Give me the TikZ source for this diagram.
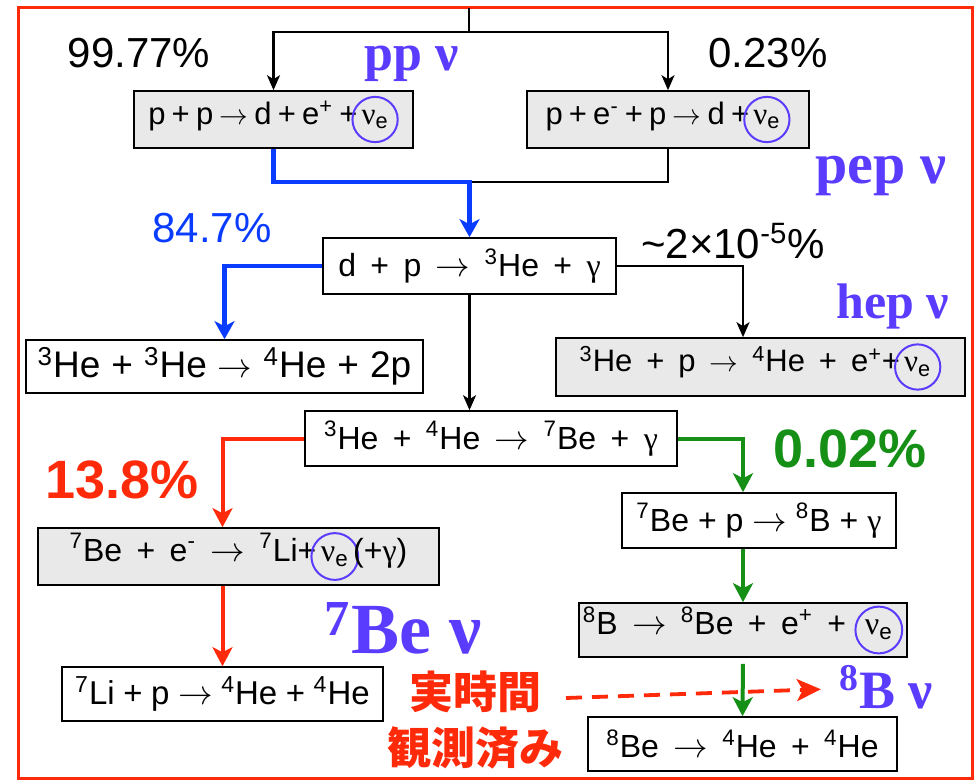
\documentclass[tikz,border=0pt]{standalone}
\usepackage{fontspec}
\setmainfont{Liberation Sans}
\newfontfamily\labfont{Liberation Serif}
\newfontfamily\cjk{Noto Sans CJK JP}
\usetikzlibrary{arrows.meta,calc,positioning}
\definecolor{frame}{HTML}{FF2A0A}
\definecolor{nu}{HTML}{5A3CFF}
\definecolor{ppb}{HTML}{0A3CFF}
\definecolor{bes}{HTML}{FF2A0A}
\definecolor{bos}{HTML}{168F16}
\definecolor{shade}{HTML}{E9E9E9}
\newcommand{\rfont}[2]{\fontsize{#1}{#1}\selectfont\spaceskip=#2em\relax}
\newcommand{\gam}{{\labfont γ}}
\newcommand{\nue}{\hspace{-3pt}\tikz[baseline=(nuc.base)]\node[shape=circle,draw=nu,fill=none,text=black,line width=1pt,inner sep=2.2pt,minimum width=0pt,minimum height=0pt] (nuc) {{\labfont ν}\textsubscript{e}};\hspace{-3pt}}

\begin{document}
\begin{tikzpicture}[x=0.5pt,y=-0.5pt,
  rxn/.style 2 args={draw,line width=0.8pt,inner sep=0pt,minimum width=#1,minimum height=#2,font=\rfont{16}{0.28}},
  shaded/.style={fill=shade},
  link/.style={line width=1.1pt},
  flow/.style={link,-{Stealth[length=7.5pt,width=6.5pt,inset=2pt]}},
  pchain/.style={draw=ppb,line width=2.3pt,-{Stealth[length=9pt,width=10pt,inset=2.5pt]}},
  bechain/.style={draw=bes,line width=2pt,-{Stealth[length=9.5pt,width=10pt,inset=2.5pt]}},
  bochain/.style={draw=bos,line width=2pt,-{Stealth[length=9.5pt,width=10pt,inset=2.5pt]}},
  pct/.style={font=\fontsize{21}{21}\selectfont,inner sep=0pt},
  bigpct/.style={font=\bfseries\fontsize{27}{27}\selectfont,inner sep=0pt},
  nulab/.style={text=nu,inner sep=0pt,font=\labfont\bfseries\fontsize{#1}{#1}\selectfont}]
\useasboundingbox (0,0) rectangle (978,780);
\draw[frame,line width=1.5pt] (18,8) rectangle (972,778);

% reactions
\node[rxn={139.5pt}{28.5pt},shaded,font=\rfont{15.5}{0.2}] (pp) at (273.5,119.5) {p + p $\rightarrow$ d + e\textsuperscript{+} +\nue};
\node[rxn={141pt}{28.5pt},shaded,font=\rfont{15.5}{0.2}] (pep) at (668,119.5) {p + e\textsuperscript{-} + p $\rightarrow$ d +\nue};
\node[rxn={146.5pt}{28pt},font=\rfont{16}{0.45}] (dp) at (469.5,266) {d + p $\rightarrow$ \textsuperscript{3}He + \gam};
\node[rxn={198.5pt}{26.5pt},font=\rfont{18.5}{0.3}] (he33) at (224.5,366.5) {\textsuperscript{3}He + \textsuperscript{3}He $\rightarrow$ \textsuperscript{4}He + 2p};
\node[rxn={204.5pt}{29pt},shaded,font=\rfont{15.5}{0.45}] (hep) at (760.5,367) {\textsuperscript{3}He + p $\rightarrow$ \textsuperscript{4}He + e\textsuperscript{+}+\nue};
\node[rxn={186pt}{27.5pt},font=\rfont{16}{0.45}] (he34) at (491,438.5) {\textsuperscript{3}He + \textsuperscript{4}He $\rightarrow$ \textsuperscript{7}Be + \gam};
\node[rxn={200.5pt}{28.5pt},shaded,font=\rfont{16}{0.45}] (bee) at (238.5,556.5) {\textsuperscript{7}Be + e\textsuperscript{-} $\rightarrow$ \textsuperscript{7}Li+\nue(+\gam)};
\node[rxn={160.5pt}{27pt},font=\rfont{16.5}{0.26}] (lip) at (222.5,694) {\textsuperscript{7}Li + p $\rightarrow$ \textsuperscript{4}He + \textsuperscript{4}He};
\node[rxn={137pt}{27.5pt}] (bep) at (759,520.5) {\textsuperscript{7}Be + p $\rightarrow$ \textsuperscript{8}B + \gam};
\node[rxn={164pt}{27pt},shaded,font=\rfont{16}{0.45}] (bdec) at (743,630) {\textsuperscript{8}B $\rightarrow$ \textsuperscript{8}Be + e\textsuperscript{+} + \nue};
\node[rxn={154.5pt}{27pt},font=\rfont{16}{0.45}] (bedec) at (742.5,744) {\textsuperscript{8}Be $\rightarrow$ \textsuperscript{4}He + \textsuperscript{4}He};

% branching ratios
\node[pct] (r1) at (139,53) {99.77\%};
\node[pct] (r2) at (768,53) {0.23\%};
\node[pct,text=ppb] (r3) at (212,228) {84.7\%};
\node[pct] (r4) at (733,241) {\textasciitilde2×10\textsuperscript{-5}\%};
\node[bigpct,text=bes] (r5) at (122,480) {13.8\%};
\node[bigpct,text=bos] (r6) at (850,449) {0.02\%};

% neutrino names
\node[nulab=26] (ppnu) at (412,64) {pp ν};
\node[nulab=29] (pepnu) at (881,176) {pep ν};
\node[nulab=25] (hepnu) at (893,306) {hep ν};
\node[nulab=36] (benu) at (403,628) {\textsuperscript{7}Be ν};
\node[nulab=27] (bnu) at (886,687) {\textsuperscript{8}B ν};
\node[text=bes,align=center,inner sep=0pt,font=\cjk\bfseries\fontsize{22}{28}\selectfont] (obsv) at (475,720) {実時間\\観測済み};

% chains
\coordinate (in) at (469,8);
\coordinate (fork) at (469,32);
\coordinate (join) at (dp.north |- 0,182);
\coordinate (obs) at (566,698);
\draw[link] (in) -- (fork);
\draw[flow] (fork) -| (pp);
\draw[flow] (fork) -| (pep);
\draw[link] (pep.south) |- (join);
\draw[pchain] (pp.south) |- (join) -- (dp.north);
\draw[pchain] (dp.west) -| (he33.north);
\draw[flow] (dp.east) -| (hep.north -| bdec.north);
\draw[flow] (dp.south) -- (he34.north -| dp.south);
\draw[bechain] (he34.west) -| (bee.north -| lip.north);
\draw[bechain] (bee.south -| lip.north) -- (lip.north);
\draw[bochain] (he34.east) -| (bep.north -| bdec.north);
\draw[bochain] (bep.south -| bdec.north) -- (bdec.north);
\draw[bochain,shorten <=3pt] (bdec.south) -- (bedec.north);
\draw[bes,line width=1.9pt,dash pattern=on 8pt off 5pt,shorten >=9pt,-{Stealth[length=12pt,width=11pt,inset=3pt]}] (obs) -- (bnu);
\end{tikzpicture}
\end{document}
